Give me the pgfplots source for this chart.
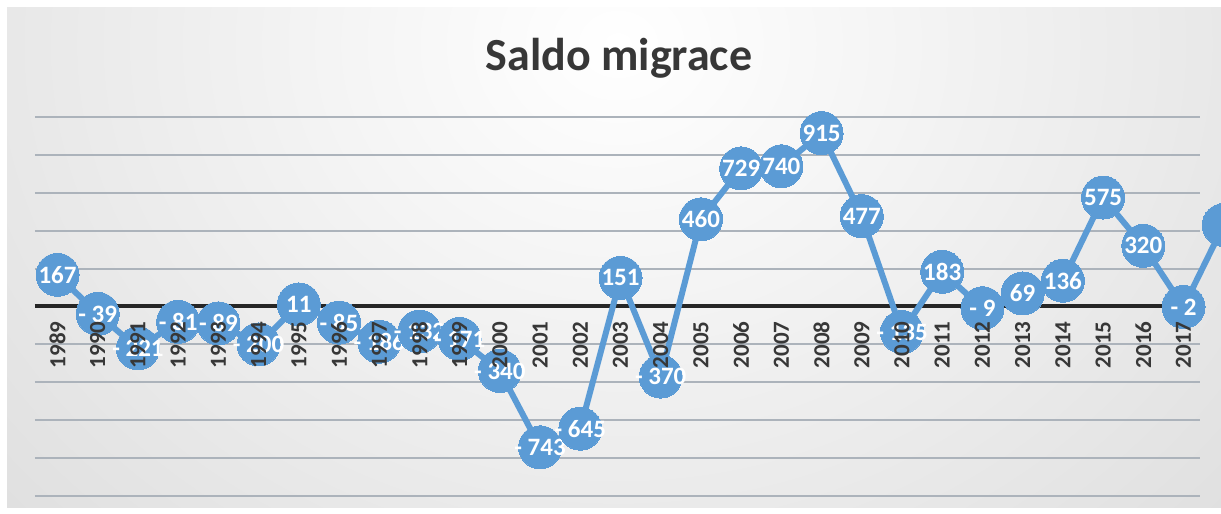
\documentclass[border=0pt]{standalone}
\usepackage{pgfplots}
\pgfplotsset{compat=1.18}
\usepackage{fontspec}
\setmainfont{Carlito}
\definecolor{ser}{RGB}{91,155,213}
\definecolor{bgc}{RGB}{205,205,205}
\definecolor{gridc}{RGB}{172,179,187}
\definecolor{txt}{RGB}{55,55,55}
\begin{document}
\begin{tikzpicture}
\useasboundingbox (0,0) rectangle (610.5pt,257pt);
\clip (0,0) rectangle (610.5pt,257pt);
\fill[white] (0,0) rectangle (610.5pt,257pt);
\begin{scope}
\clip (3.5pt,3pt) rectangle (610.5pt,253pt);
\fill[bgc] (3.5pt,3pt) rectangle (610.5pt,253pt);
\shade[inner color=white, outer color=bgc] (309pt,235pt) ellipse (660pt and 560pt);
\end{scope}
\node[anchor=base, font=\fontsize{23}{27}\selectfont\bfseries, text=txt] at (309.5pt,221.5pt) {Saldo migrace};
\begin{axis}[at={(17.5pt,9pt)}, anchor=south west, scale only axis,
  width=582.5pt, height=189.5pt,
  xmin=1988.44, xmax=2017.41, ymin=-1000, ymax=1000,
  clip=false,
  axis line style={draw=none}, tick style={draw=none},
  xtick=\empty, ytick={-1000,-800,...,1000}, yticklabels={},
  ymajorgrids, grid style={gridc, line width=1pt},
  extra y ticks={0}, extra y tick labels={},
  extra y tick style={major grid style={black!85, line width=2pt}},
  ]
\addplot[ser, line width=3pt, mark=*, mark size=10.75pt,
  mark options={fill=ser, draw=ser, line width=0pt},
  point meta=explicit symbolic, nodes near coords, nodes near coords align={center},
  every node near coord/.append style={anchor=center, text=white, font=\fontsize{12.5}{14}\selectfont\bfseries}]
coordinates {
(1989,167) [167]
(1990,-39) [- 39]
(1991,-221) [- 221]
(1992,-81) [- 81]
(1993,-89) [- 89]
(1994,-200) [- 200]
(1995,11) [11]
(1996,-85) [- 85]
(1997,-186) [- 186]
(1998,-132) [- 132]
(1999,-171) [- 171]
(2000,-340) [- 340]
(2001,-743) [- 743]
(2002,-645) [- 645]
(2003,151) [151]
(2004,-370) [- 370]
(2005,460) [460]
(2006,729) [729]
(2007,740) [740]
(2008,915) [915]
(2009,477) [477]
(2010,-135) [- 135]
(2011,183) [183]
(2012,-9) [- 9]
(2013,69) [69]
(2014,136) [136]
(2015,575) [575]
(2016,320) [320]
(2017,-2) [- 2]
(2018,430) []
};
\end{axis}
\begin{axis}[at={(17.5pt,9pt)}, anchor=south west, scale only axis,
  width=582.5pt, height=189.5pt,
  xmin=1988.44, xmax=2017.41, ymin=-1000, ymax=1000,
  axis x line=middle, axis y line=none,
  x axis line style={draw=none}, major tick length=0pt,
  xtick={1989,1990,...,2017},
  xticklabels={1989,1990,1991,1992,1993,1994,1995,1996,1997,1998,1999,2000,2001,2002,2003,2004,2005,2006,2007,2008,2009,2010,2011,2012,2013,2014,2015,2016,2017},
  xticklabel shift=4pt,
  xticklabel style={rotate=90, anchor=east, text=txt, font=\fontsize{11.5}{13}\selectfont\bfseries},
  ]
\end{axis}
\end{tikzpicture}
\end{document}
